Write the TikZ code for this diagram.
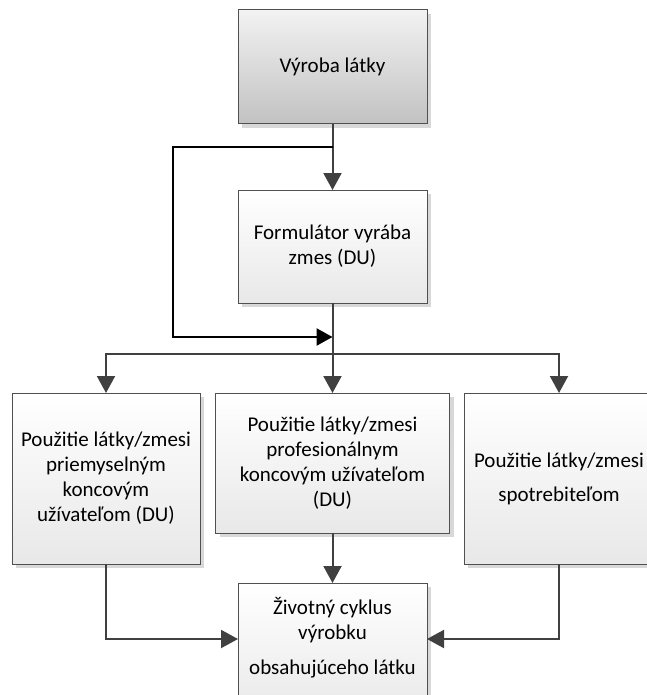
\documentclass[tikz,border=0pt]{standalone}
\usepackage{fontspec}
\setmainfont{Carlito}
\usetikzlibrary{arrows.meta,shadows}
\definecolor{edge}{HTML}{505050}
\definecolor{conncol}{HTML}{404040}
\definecolor{shade}{HTML}{D8D8D8}
\begin{document}
\begin{tikzpicture}[x=1pt,y=1pt,
  box/.style={draw=edge, line width=1pt, inner sep=0pt, outer sep=0pt,
    align=center, font=\fontsize{21}{25}\selectfont,
    top color=white, bottom color=black!9,
    drop shadow={shadow xshift=4pt, shadow yshift=-4pt, fill=shade, opacity=1}},
  topbox/.style={box, top color=black!5, bottom color=black!24},
  conn/.style={draw=conncol, line width=2pt, -{Triangle[length=17pt,width=18pt]}},
  feed/.style={draw=black, line width=2.6pt, -{Triangle[length=16pt,width=17pt]}},
  txt/.style={align=center, inner sep=0pt, font=\fontsize{21}{25}\selectfont}]
\useasboundingbox (0,0) rectangle (646,-695);
\node[topbox, minimum width=189pt, minimum height=114pt] (top) at (332.5,-67) {Výroba látky};
\node[box, minimum width=189pt, minimum height=113pt] (form) at (332.5,-246.5) {Formulátor vyrába\\zmes (DU)};
\node[box, minimum width=188pt, minimum height=171pt] (b1) at (106,-478.5) {Použitie látky/zmesi\\priemyselným\\koncovým\\užívateľom (DU)};
\node[box, minimum width=234pt, minimum height=140pt] (b2) at (332.5,-463) {Použitie látky/zmesi\\profesionálnym\\koncovým užívateľom\\(DU)};
\node[box, minimum width=190pt, minimum height=171pt] (b3) at (559,-478.5) {Použitie látky/zmesi\\[9pt]spotrebiteľom};
\node[box, minimum width=189pt, minimum height=137pt] (life) at (332.5,-651.5) {};
\node[txt] (lifetext) at (332.5,-638) {Životný cyklus\\výrobku\\[10pt]obsahujúceho látku};
\coordinate (fb) at (332.5,-147);
\coordinate (fbin) at (332.5,-337);
\coordinate (split) at (332.5,-354);
\draw[conn] (top.south) -- (form.north);
\draw[feed] (fb) -| (173,-337) -- (fbin);
\draw[conn] (form.south) -- (split) -| (b1.north);
\draw[conn] (split) -| (b3.north);
\draw[conn] (split) -- (b2.north);
\draw[conn] (b2.south) -- (life.north);
\draw[conn] (b1.south) |- ([yshift=12.5pt]life.west);
\draw[conn] (b3.south) |- ([yshift=12.5pt]life.east);
\end{tikzpicture}
\end{document}
